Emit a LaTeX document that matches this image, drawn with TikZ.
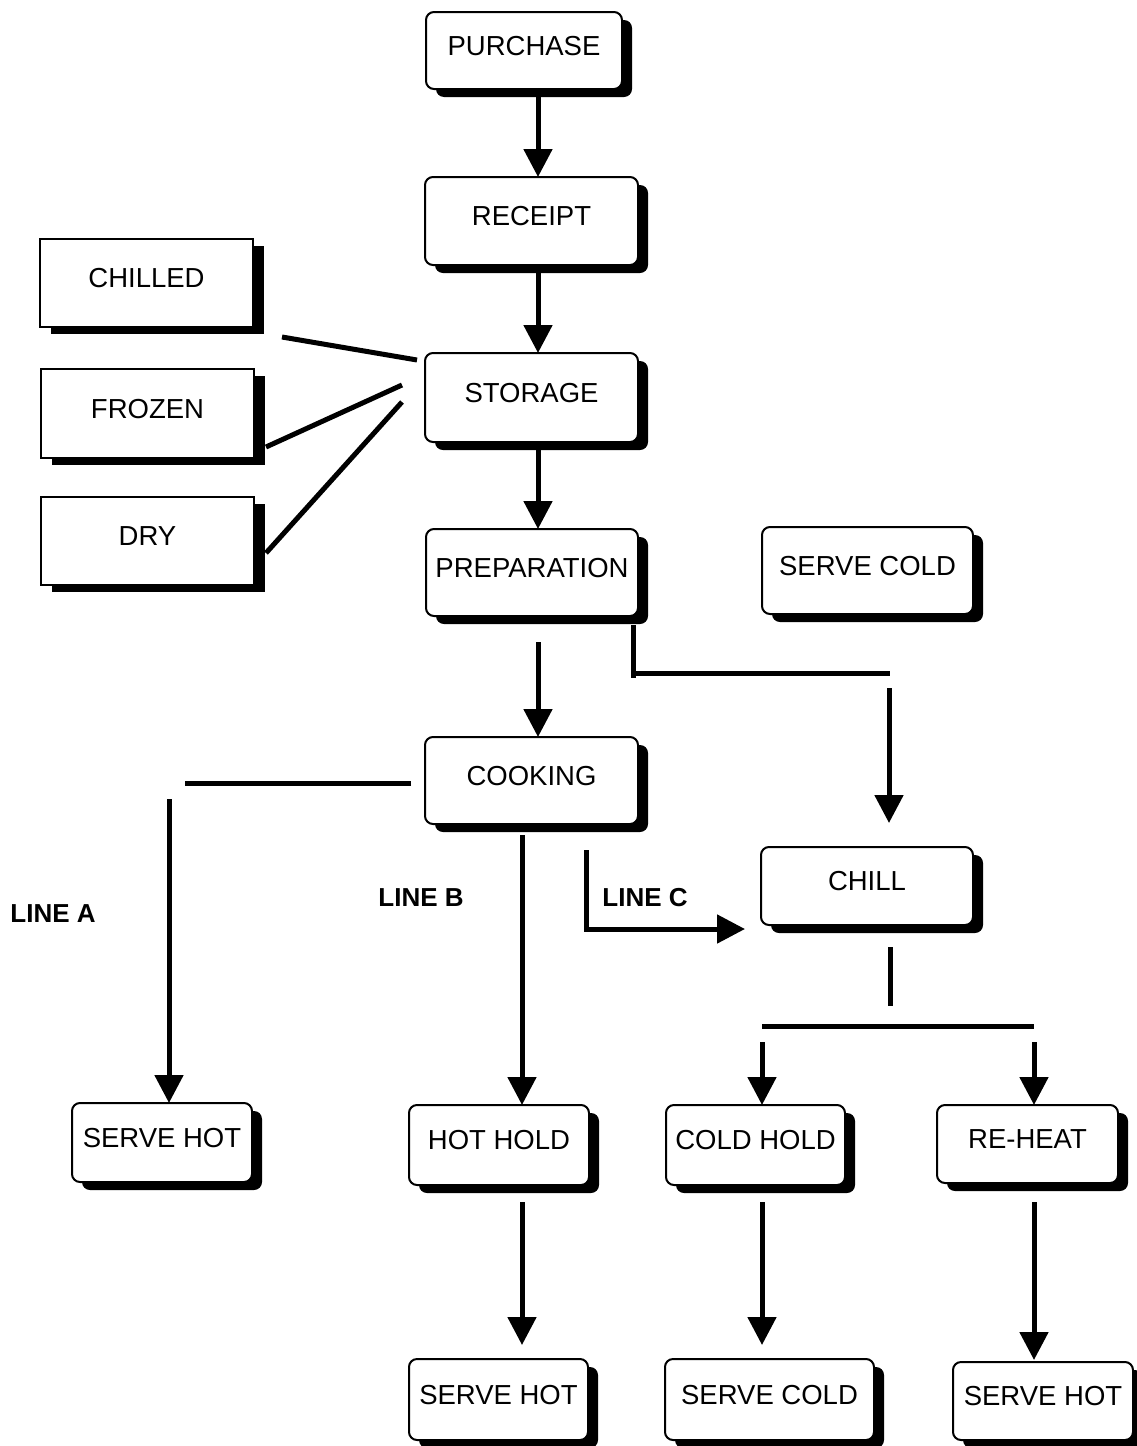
\documentclass[tikz,border=0pt]{standalone}
\usepackage{fontspec}
\setmainfont{Liberation Sans}
\usetikzlibrary{arrows.meta,shadows}
\begin{document}
\begin{tikzpicture}[x=1pt,y=-1pt,
  box/.style={draw=black, line width=2pt, fill=white, rounded corners=8pt, inner sep=0pt, outer sep=0pt,
    text height=20pt, text depth=11pt, font=\fontsize{27.5}{30}\selectfont,
    general shadow={shadow xshift=10pt, shadow yshift=-8pt, fill=black}},
  sqbox/.style={draw=black, line width=2pt, fill=white, inner sep=0pt, outer sep=0pt,
    text height=20pt, text depth=11pt, font=\fontsize{27.5}{30}\selectfont,
    general shadow={shadow xshift=11pt, shadow yshift=-7pt, fill=black}},
  lbl/.style={font=\bfseries\fontsize{26}{30}\selectfont, inner sep=0pt},
  arr/.style={line width=5pt, -{Triangle[width=28pt,length=28pt]}},
  ln/.style={line width=5pt}
]
\useasboundingbox (0,0) rectangle (1136,1446);

% main column
\node[box, minimum width=196pt, minimum height=77pt] (purchase) at (524,50.5) {PURCHASE};
\node[box, minimum width=213pt, minimum height=88pt] (receipt) at (531.5,221) {RECEIPT};
\node[box, minimum width=213pt, minimum height=89pt] (storage) at (531.5,397.5) {STORAGE};
\node[box, minimum width=212pt, minimum height=87pt] (prep) at (532,572.5) {PREPARATION};
\node[box, minimum width=213pt, minimum height=87pt] (cooking) at (531.5,780.5) {COOKING};

% storage types
\node[sqbox, minimum width=213pt, minimum height=88pt] (chilled) at (146.5,283) {CHILLED};
\node[sqbox, minimum width=213pt, minimum height=89pt] (frozen) at (147.5,413.5) {FROZEN};
\node[sqbox, minimum width=213pt, minimum height=88pt] (dry) at (147.5,541) {DRY};

% right side
\node[box, minimum width=211pt, minimum height=87pt] (servecoldtop) at (867.5,570.5) {SERVE COLD};
\node[box, minimum width=212pt, minimum height=78pt] (chill) at (867,886) {CHILL};

% middle row
\node[box, minimum width=180pt, minimum height=79pt] (servehotA) at (162,1142.5) {SERVE HOT};
\node[box, minimum width=180pt, minimum height=80pt] (hothold) at (499,1145) {HOT HOLD};
\node[box, minimum width=179pt, minimum height=80pt] (coldhold) at (755.5,1145) {COLD HOLD};
\node[box, minimum width=181pt, minimum height=78pt] (reheat) at (1027.5,1144) {RE-HEAT};

% bottom row
\node[box, minimum width=179pt, minimum height=81pt] (servehotB) at (498.5,1399.5) {SERVE HOT};
\node[box, minimum width=209pt, minimum height=81pt] (servecoldB) at (769.5,1399.5) {SERVE COLD};
\node[box, minimum width=180pt, minimum height=78pt] (servehotC) at (1043,1401) {SERVE HOT};

% labels
\node[lbl] (lineA) at (53,914) {LINE A};
\node[lbl] (lineB) at (421,898) {LINE B};
\node[lbl] (lineC) at (645,898) {LINE C};

% main column arrows
\draw[arr] ([shift={(14,8)}]purchase.south) -- ([shift={(6.5,0)}]receipt.north);
\draw[arr] ([shift={(6.5,8)}]receipt.south) -- ([shift={(6.5,0)}]storage.north);
\draw[arr] ([shift={(6.5,8)}]storage.south) -- ([shift={(6,0)}]prep.north);
\draw[arr] ([shift={(6,26)}]prep.south) -- ([shift={(6.5,0)}]cooking.north);

% storage lines
\draw[ln] ([shift={(29,10)}]chilled.south east) -- ([shift={(-8,-37.5)}]storage.west);
\draw[ln] ([shift={(12,33.5)}]frozen.east) -- ([shift={(-23,-12.5)}]storage.west);
\draw[ln] ([shift={(12,12)}]dry.east) -- ([shift={(-23,4.5)}]storage.west);

% preparation to chill
\draw[ln] ([shift={(-5,9)}]prep.south east) -- ([shift={(-5,62)}]prep.south east);
\draw[ln] ([shift={(-5,57)}]prep.south east) -- ([shift={(23,-174)}]chill.north);
\draw[arr] ([shift={(22,-159)}]chill.north) -- ([shift={(22,-24)}]chill.north);

% line A
\draw[ln] ([shift={(-14,2.5)}]cooking.west) -- ([shift={(23,-320)}]servehotA.north);
\draw[arr] ([shift={(7,-304)}]servehotA.north) -- ([shift={(7,0)}]servehotA.north);

% line B
\draw[arr] ([shift={(-9.5,11)}]cooking.south) -- ([shift={(23,0)}]hothold.north);

% line C
\draw[arr, line join=miter] ([shift={(54.5,26)}]cooking.south) -- ([shift={(-175,43)}]chill.west) -- ([shift={(-16,43)}]chill.west);

% chill branches
\draw[ln] ([shift={(23,22)}]chill.south) -- ([shift={(23,81)}]chill.south);
\draw[ln] ([shift={(6.5,-79)}]coldhold.north) -- ([shift={(6.5,-79)}]reheat.north);
\draw[arr] ([shift={(6.5,-63)}]coldhold.north) -- ([shift={(6.5,0)}]coldhold.north);
\draw[arr] ([shift={(6.5,-63)}]reheat.north) -- ([shift={(6.5,0)}]reheat.north);

% to bottom row
\draw[arr] ([shift={(23,17)}]hothold.south) -- ([shift={(23.5,-14)}]servehotB.north);
\draw[arr] ([shift={(6.5,17)}]coldhold.south) -- ([shift={(-7.5,-14)}]servecoldB.north);
\draw[arr] ([shift={(6.5,19)}]reheat.south) -- ([shift={(-9,-2)}]servehotC.north);
\end{tikzpicture}
\end{document}
